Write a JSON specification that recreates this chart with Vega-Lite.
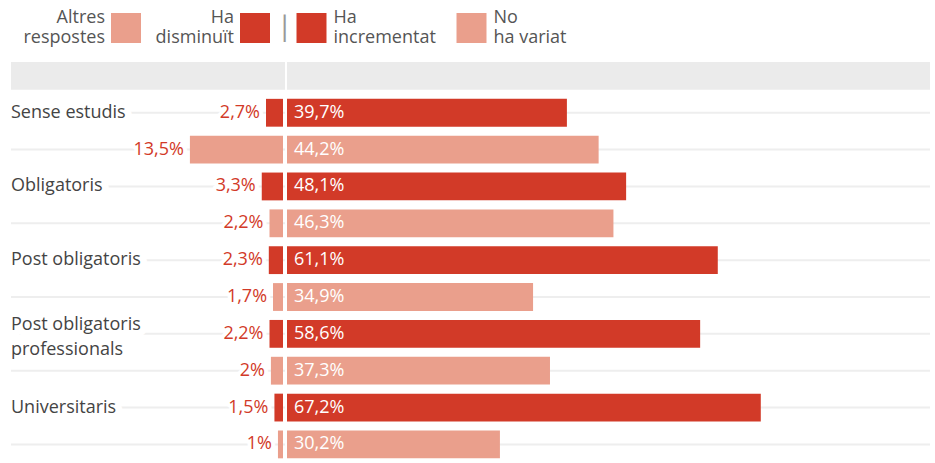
{
  "$schema": "https://vega.github.io/schema/vega-lite/v6.json",
  "autosize": {"type": "pad"},
  "bounds": "flush",
  "padding": {"left": 10, "top": 13, "right": 6, "bottom": 0},
  "background": "white",
  "config": {
    "view": {"stroke": null},
    "font": "Open Sans",
    "legend": {
      "orient": "none",
      "direction": "horizontal",
      "symbolType": "square",
      "symbolSize": 900,
      "symbolStrokeWidth": 0,
      "symbolOpacity": 1,
      "labelFont": "Open Sans",
      "labelFontSize": 18,
      "labelColor": "#555555",
      "labelLimit": 0,
      "labelBaseline": "line-bottom",
      "labelLineHeight": 20,
      "columnPadding": 20,
      "padding": 0
    }
  },
  "datasets": {
    "rows": [
      {"row": "1", "cat": "Sense estudis", "left": "Ha disminuït", "lv": 2.7, "right": "Ha incrementat", "rv": 39.7},
      {"row": "2", "cat": "Sense estudis", "left": "Altres respostes", "lv": 13.5, "right": "No ha variat", "rv": 44.2},
      {"row": "3", "cat": "Obligatoris", "left": "Ha disminuït", "lv": 3.3, "right": "Ha incrementat", "rv": 48.1},
      {"row": "4", "cat": "Obligatoris", "left": "Altres respostes", "lv": 2.2, "right": "No ha variat", "rv": 46.3},
      {"row": "5", "cat": "Post obligatoris", "left": "Ha disminuït", "lv": 2.3, "right": "Ha incrementat", "rv": 61.1},
      {"row": "6", "cat": "Post obligatoris", "left": "Altres respostes", "lv": 1.7, "right": "No ha variat", "rv": 34.9},
      {"row": "7", "cat": "Post obligatoris\nprofessionals", "left": "Ha disminuït", "lv": 2.2, "right": "Ha incrementat", "rv": 58.6},
      {"row": "8", "cat": "Post obligatoris\nprofessionals", "left": "Altres respostes", "lv": 2.0, "right": "No ha variat", "rv": 37.3},
      {"row": "9", "cat": "Universitaris", "left": "Ha disminuït", "lv": 1.5, "right": "Ha incrementat", "rv": 67.2},
      {"row": "10", "cat": "Universitaris", "left": "Altres respostes", "lv": 1.0, "right": "No ha variat", "rv": 30.2}
    ],
    "header": [{"row": "h"}]
  },
  "spacing": 2,
  "resolve": {"scale": {"color": "independent", "x": "independent"}, "legend": {"color": "independent"}},
  "hconcat": [
    {
      "width": 274,
      "height": {"step": 36.85},
      "layer": [
        {
          "data": {"name": "header"},
          "mark": {"type": "bar", "color": "#EBEBEB"},
          "encoding": {
            "y": {"field": "row", "type": "nominal", "axis": null,
                  "scale": {"domain": ["h", "1", "2", "3", "4", "5", "6", "7", "8", "9", "10"], "paddingInner": 0.245, "paddingOuter": 0}}
          }
        },
        {
          "data": {"name": "rows"},
          "mark": {"type": "rule", "color": "#EEEEEE", "strokeWidth": 2},
          "encoding": {"y": {"field": "row", "type": "nominal"}}
        },
        {
          "data": {"name": "rows"},
          "mark": {"type": "bar", "x2Offset": -2},
          "encoding": {
            "y": {"field": "row", "type": "nominal"},
            "x": {"field": "lv", "type": "quantitative", "scale": {"domain": [0, 38.9], "reverse": true, "nice": false, "zero": true}, "axis": null},
            "x2": {"datum": 0},
            "color": {
              "field": "left", "type": "nominal",
              "scale": {"domain": ["Altres respostes", "Ha disminuït"], "range": ["#EA9F8C", "#D23A28"]},
              "legend": {
                "title": null,
                "legendX": 100,
                "legendY": -49,
                "labelAlign": "right",
                "labelOffset": -36,
                "columnPadding": 14,
                "labelExpr": "[substring(datum.label, 0, indexof(datum.label, ' ')), substring(datum.label, indexof(datum.label, ' ') + 1)]"
              }
            }
          }
        },
        {
          "data": {"name": "rows"},
          "transform": [{"calculate": "replace(format(datum.lv, '.1~f'), '.', ',') + '%'", "as": "lab"}],
          "mark": {"type": "text", "align": "right", "baseline": "middle", "dx": -6, "fontSize": 18, "color": "white", "stroke": "white", "strokeWidth": 8, "strokeJoin": "round"},
          "encoding": {
            "y": {"field": "row", "type": "nominal"},
            "x": {"field": "lv", "type": "quantitative"},
            "text": {"field": "lab"}
          }
        },
        {
          "data": {"name": "rows"},
          "transform": [{"calculate": "replace(format(datum.lv, '.1~f'), '.', ',') + '%'", "as": "lab"}],
          "mark": {"type": "text", "align": "right", "baseline": "middle", "dx": -6, "fontSize": 18, "color": "#D23A28"},
          "encoding": {
            "y": {"field": "row", "type": "nominal"},
            "x": {"field": "lv", "type": "quantitative"},
            "text": {"field": "lab"}
          }
        },
        {
          "data": {"name": "rows"},
          "transform": [{"filter": "datum.right === 'Ha incrementat' && indexof(datum.cat, '\\n') < 0"}],
          "mark": {"type": "text", "align": "left", "baseline": "middle", "fontSize": 18, "color": "white", "stroke": "white", "strokeWidth": 14, "strokeJoin": "round"},
          "encoding": {
            "y": {"field": "row", "type": "nominal"},
            "x": {"datum": 38.9},
            "text": {"field": "cat"}
          }
        },
        {
          "data": {"name": "rows"},
          "transform": [{"filter": "datum.right === 'Ha incrementat' && indexof(datum.cat, '\\n') < 0"}],
          "mark": {"type": "text", "align": "left", "baseline": "middle", "fontSize": 18, "color": "#444444"},
          "encoding": {
            "y": {"field": "row", "type": "nominal"},
            "x": {"datum": 38.9},
            "text": {"field": "cat"}
          }
        },
        {
          "data": {"name": "rows"},
          "transform": [{"filter": "datum.right === 'Ha incrementat' && indexof(datum.cat, '\\n') >= 0"}],
          "mark": {"type": "text", "align": "left", "baseline": "middle", "dy": -9, "fontSize": 18, "lineHeight": 25, "lineBreak": "\n", "color": "white", "stroke": "white", "strokeWidth": 14, "strokeJoin": "round"},
          "encoding": {
            "y": {"field": "row", "type": "nominal"},
            "x": {"datum": 38.9},
            "text": {"field": "cat"}
          }
        },
        {
          "data": {"name": "rows"},
          "transform": [{"filter": "datum.right === 'Ha incrementat' && indexof(datum.cat, '\\n') >= 0"}],
          "mark": {"type": "text", "align": "left", "baseline": "middle", "dy": -9, "fontSize": 18, "lineHeight": 25, "lineBreak": "\n", "color": "#444444"},
          "encoding": {
            "y": {"field": "row", "type": "nominal"},
            "x": {"datum": 38.9},
            "text": {"field": "cat"}
          }
        }
      ]
    },
    {
      "width": 643,
      "height": {"step": 36.85},
      "layer": [
        {
          "data": {"name": "header"},
          "mark": {"type": "bar", "color": "#EBEBEB"},
          "encoding": {
            "y": {"field": "row", "type": "nominal", "axis": null,
                  "scale": {"domain": ["h", "1", "2", "3", "4", "5", "6", "7", "8", "9", "10"], "paddingInner": 0.245, "paddingOuter": 0}}
          }
        },
        {
          "data": {"name": "rows"},
          "mark": {"type": "rule", "color": "#EEEEEE", "strokeWidth": 2},
          "encoding": {"y": {"field": "row", "type": "nominal"}}
        },
        {
          "data": {"name": "rows"},
          "mark": {"type": "bar"},
          "encoding": {
            "y": {"field": "row", "type": "nominal"},
            "x": {"field": "rv", "type": "quantitative", "scale": {"domain": [0, 91.2], "nice": false}, "axis": null},
            "color": {
              "field": "right", "type": "nominal",
              "scale": {"domain": ["Ha incrementat", "No ha variat"], "range": ["#D23A28", "#EA9F8C"]},
              "legend": {
                "title": "|",
                "titleOrient": "left",
                "titleFont": "Lato",
                "titleFontSize": 29,
                "titleBaseline": "line-bottom",
                "titleLineHeight": 2,
                "titleFontWeight": "normal",
                "titleColor": "#999999",
                "titlePadding": 7.5,
                "legendX": -6,
                "legendY": -49,
                "labelOffset": 7,
                "columnPadding": 20,
                "labelExpr": "[substring(datum.label, 0, indexof(datum.label, ' ')), substring(datum.label, indexof(datum.label, ' ') + 1)]"
              }
            }
          }
        },
        {
          "data": {"name": "rows"},
          "transform": [{"calculate": "replace(format(datum.rv, '.1~f'), '.', ',') + '%'", "as": "lab"}],
          "mark": {"type": "text", "align": "left", "baseline": "middle", "dx": 7, "fontSize": 18, "color": "white"},
          "encoding": {
            "y": {"field": "row", "type": "nominal"},
            "x": {"datum": 0},
            "text": {"field": "lab"}
          }
        }
      ]
    }
  ]
}
